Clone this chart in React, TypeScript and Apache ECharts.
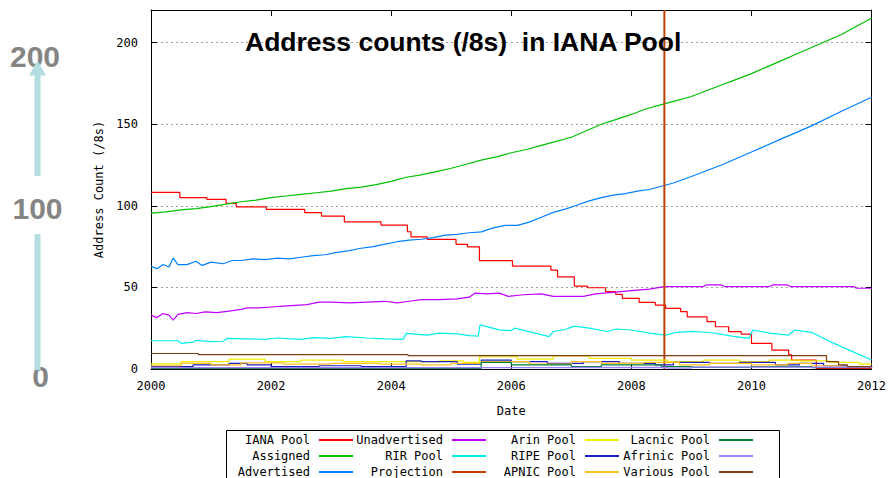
import React, { useEffect, useRef } from 'react';
import * as echarts from 'echarts';

// ---- data (year, /8 count) ----
const ianaPool: [number, number][] = [
  [2000, 108.2], [2000.48, 105], [2000.93, 104], [2001.25, 101.5], [2001.42, 99.4], [2001.92, 97.8],
  [2002.56, 95.8], [2002.84, 93.7], [2003.22, 90.2], [2003.83, 88.2], [2004.27, 84.1], [2004.33, 81],
  [2004.6, 79.4], [2005.08, 76.4], [2005.27, 74.9], [2005.47, 66.4], [2006.02, 63.1], [2006.66, 60.6],
  [2006.77, 56.5], [2007.05, 50.8], [2007.27, 49.8], [2007.57, 47.4], [2007.74, 45.7], [2007.85, 43.3],
  [2008.13, 40.8], [2008.4, 39.2], [2008.57, 37.2], [2008.82, 35.1], [2008.93, 32], [2009.26, 29],
  [2009.4, 25.9], [2009.62, 22.9], [2009.83, 21.4], [2010.0, 15.7], [2010.34, 11.6], [2010.62, 8.6],
  [2010.67, 5.5], [2011.08, 0.3], [2012, 0.3],
];
const assigned: [number, number][] = [
  [2000, 95.5], [2000.25, 96.3], [2000.5, 97.5], [2000.75, 98.3], [2001, 99.5], [2001.25, 101],
  [2001.5, 102.5], [2001.75, 103.5], [2002, 105], [2002.25, 106], [2002.5, 107], [2002.75, 108],
  [2003, 109], [2003.25, 110.5], [2003.5, 111.5], [2003.75, 113], [2004, 115], [2004.25, 117.5],
  [2004.5, 119], [2004.75, 121], [2005, 123], [2005.25, 125.5], [2005.5, 128], [2005.75, 130],
  [2006, 132.5], [2006.25, 134.5], [2006.5, 137], [2006.75, 139.5], [2007, 142], [2007.25, 146],
  [2007.5, 150], [2007.75, 153], [2008, 156], [2008.25, 159.5], [2008.5, 162], [2008.75, 164.5],
  [2009, 167], [2009.25, 170.5], [2009.5, 174], [2009.75, 177.5], [2010, 181], [2010.25, 185],
  [2010.5, 189], [2010.75, 193], [2011, 197], [2011.25, 201], [2011.5, 205], [2011.75, 210], [2012, 215],
];
const advertised: [number, number][] = [
  [2000, 63], [2000.1, 61.5], [2000.2, 64], [2000.3, 62.5], [2000.37, 68], [2000.45, 64], [2000.6, 64],
  [2000.75, 66], [2000.85, 63.5], [2001, 65.5], [2001.2, 64.5], [2001.35, 66.5], [2001.5, 66.5],
  [2001.7, 67.5], [2001.9, 67], [2002.1, 68], [2002.3, 67.5], [2002.5, 68.5], [2002.7, 69.5], [2002.9, 70],
  [2003.1, 71.5], [2003.3, 72.5], [2003.5, 74], [2003.7, 75], [2003.9, 76.5], [2004.1, 78], [2004.3, 79],
  [2004.5, 79.5], [2004.7, 80.5], [2004.9, 82], [2005.1, 82.5], [2005.3, 83.5], [2005.5, 84], [2005.7, 86.5],
  [2005.9, 88], [2006.1, 88], [2006.3, 90], [2006.5, 93], [2006.7, 96], [2006.9, 98], [2007.1, 100.5],
  [2007.3, 103], [2007.5, 105], [2007.7, 106.5], [2007.9, 107.5], [2008.1, 109], [2008.3, 110],
  [2008.5, 112], [2008.7, 114], [2009, 118], [2009.5, 125], [2010, 133], [2010.5, 141], [2011, 149],
  [2011.5, 158], [2012, 166.5],
];
const unadvertised: [number, number][] = [
  [2000, 33], [2000.1, 31.5], [2000.2, 34], [2000.3, 33], [2000.37, 30], [2000.45, 33.5], [2000.6, 34.5],
  [2000.75, 34], [2000.9, 35], [2001.1, 34.5], [2001.3, 35.5], [2001.5, 36.5], [2001.6, 37.5], [2001.8, 37.5],
  [2002, 38], [2002.2, 38.5], [2002.4, 39], [2002.6, 39.5], [2002.8, 41], [2003, 41], [2003.3, 40.5],
  [2003.6, 41], [2003.9, 41.5], [2004.1, 40.5], [2004.3, 41.5], [2004.5, 42.5], [2004.8, 42.5], [2005.1, 43],
  [2005.3, 44], [2005.4, 46.5], [2005.6, 46], [2005.8, 46.5], [2005.95, 44.5], [2006.2, 45.5], [2006.5, 46],
  [2006.7, 44.5], [2006.9, 44.5], [2007.2, 44.5], [2007.4, 46], [2007.7, 47], [2008, 48], [2008.3, 49],
  [2008.55, 50.5], [2009.2, 50.5], [2009.25, 51.5], [2009.5, 51.5], [2009.55, 50.5], [2010.3, 50.5],
  [2010.35, 51.5], [2010.6, 51.5], [2010.65, 50.5], [2011.7, 50.5], [2011.75, 49.5], [2012, 49.5],
];
const rirPool: [number, number][] = [
  [2000, 17.3], [2000.45, 17.3], [2000.5, 15.7], [2000.7, 16.5], [2000.75, 17.5], [2001, 16.8], [2001.2, 17],
  [2001.27, 18.8], [2001.6, 18.5], [2001.9, 18.2], [2002.1, 19], [2002.5, 18.2], [2002.7, 19.2], [2003, 18.8],
  [2003.25, 19.8], [2003.6, 19], [2003.9, 18.5], [2004.2, 18.2], [2004.25, 21.8], [2004.6, 20.8], [2004.8, 22],
  [2005.1, 21.5], [2005.3, 20.5], [2005.45, 20.2], [2005.48, 27], [2005.8, 24], [2006, 23.5], [2006.05, 25],
  [2006.4, 22], [2006.63, 19.8], [2006.7, 23], [2006.9, 24.2], [2007.05, 26.3], [2007.3, 25], [2007.6, 23],
  [2007.75, 24.5], [2008, 23.9], [2008.3, 22], [2008.57, 20.8], [2008.75, 22.5], [2009, 23], [2009.35, 22.2],
  [2009.7, 20], [2009.96, 18.8], [2010.02, 23.9], [2010.3, 22], [2010.62, 20.8], [2010.72, 23.9],
  [2011, 22.5], [2011.3, 17], [2011.6, 12], [2012, 5.5],
];
const projection: [number, number][] = [[2008.55, 0], [2008.55, 113], [2008.55, 220]];
const arinPool: [number, number][] = [
  [2000, 3.2], [2000.5, 4.5], [2001.3, 6], [2001.9, 4.5], [2002.5, 5.5], [2003.2, 4.5], [2004.3, 4.3],
  [2004.8, 5], [2005.2, 4], [2005.47, 7.5], [2006.1, 6], [2006.7, 8], [2007.3, 6.5], [2008, 5.5],
  [2008.6, 4.5], [2009.2, 5.5], [2009.8, 4.5], [2010.3, 5.5], [2010.8, 5], [2011.3, 4], [2011.8, 3], [2012, 3],
];
const ripePool: [number, number][] = [
  [2000, 1.5], [2000.7, 2.5], [2001.3, 3.5], [2001.6, 2.5], [2002, 1.5], [2002.8, 2], [2003.5, 1.5],
  [2004.25, 5], [2004.5, 4.5], [2005.1, 3], [2005.5, 5.5], [2006, 4.5], [2006.6, 3.5], [2007.2, 4.5],
  [2007.8, 3.5], [2008.4, 2.5], [2008.7, 4], [2009.3, 3.5], [2009.8, 4], [2010.4, 2.5], [2010.8, 3.5],
  [2011.2, 2], [2011.6, 1.5], [2012, 1],
];
const apnicPool: [number, number][] = [
  [2000, 2], [2000.5, 3.5], [2001, 2.5], [2001.5, 3.8], [2002.2, 3], [2003, 3.5], [2003.8, 3], [2004.5, 2.5],
  [2005, 3.5], [2005.5, 4.5], [2006.3, 3], [2007, 4.5], [2007.5, 3.5], [2008.2, 4], [2008.8, 2.5],
  [2009.3, 3.5], [2010, 2.5], [2010.6, 3.5], [2011, 2], [2011.5, 1], [2012, 0.5],
];
const lacnicPool: [number, number][] = [
  [2000, 0.3], [2005.2, 0.3], [2005.5, 4], [2006, 2.5], [2007, 1.5], [2007.5, 2.5], [2008.5, 1.5],
  [2009, 1], [2010, 1.5], [2011, 0.8], [2012, 0.3],
];
const afrinicPool: [number, number][] = [
  [2000, 0.8], [2004, 0.8], [2006, 1], [2008.6, 0.5], [2009, 1.2], [2011, 1], [2012, 0.5],
];
const variousPool: [number, number][] = [
  [2000, 9.5], [2000.79, 8.8], [2004.28, 8.2], [2011.2, 8.2], [2011.25, 4.5], [2011.45, 2.5],
  [2011.6, 1.5], [2012, 1],
];

const seriesNames = [
  'IANA Pool', 'Assigned', 'Advertised', 'Unadvertised', 'RIR Pool', 'Projection',
  'Arin Pool', 'RIPE Pool', 'APNIC Pool', 'Lacnic Pool', 'Afrinic Pool', 'Various Pool',
];
const seriesData = [
  ianaPool, assigned, advertised, unadvertised, rirPool, projection,
  arinPool, ripePool, apnicPool, lacnicPool, afrinicPool, variousPool,
];
const seriesColors = [
  '#ff0000', '#00c000', '#0080ff', '#c000ff', '#00eeee', '#c04000',
  '#eeee00', '#2020c0', '#ffc020', '#008040', '#a080ff', '#804014',
];
const stepped = [true, false, false, false, false, false, true, true, true, true, true, true];

const titleText = 'Address counts (/8s)  in IANA Pool';
const sideLabels = ['200', '100', '0'];

const MONO = 'DejaVu Sans Mono';
const SANS = 'Liberation Sans, Arial';

export default function App() {
  const ref = useRef<HTMLDivElement>(null);
  useEffect(() => {
    if (!ref.current) return;
    const chart = echarts.init(ref.current, undefined, { renderer: 'svg' });

    const colRight = [536, 403, 270, 136];
    const rowTop = [434, 450, 466];

    const axisCommon = {
      type: 'value' as const,
      axisLine: { show: true, onZero: false, lineStyle: { color: '#000', width: 1 } },
      axisTick: { show: true, inside: true, length: 6, lineStyle: { color: '#000' } },
    };

    const option: any = {
      animation: false,
      backgroundColor: '#fff',
      title: {
        text: titleText,
        left: 245,
        top: 28,
        padding: 0,
        textStyle: { fontFamily: SANS, fontSize: 26.5, fontWeight: 'bold', color: '#000' },
      },
      grid: { left: 151, right: 16, top: 10, bottom: 109, containLabel: false },
      xAxis: [
        {
          ...axisCommon,
          min: 2000, max: 2012, interval: 2,
          position: 'bottom',
          name: 'Date', nameLocation: 'middle', nameGap: 36,
          nameTextStyle: { fontFamily: MONO, fontSize: 12, color: '#000' },
          axisLabel: { formatter: (v: number) => String(v), fontFamily: MONO, fontSize: 12, color: '#000', margin: 11 },
          splitLine: { show: false },
        },
        {
          ...axisCommon,
          min: 2000, max: 2012, interval: 2,
          position: 'top',
          axisLabel: { show: false },
          splitLine: { show: false },
        },
      ],
      yAxis: [
        {
          ...axisCommon,
          min: 0, max: 220, interval: 50,
          position: 'left',
          name: 'Address Count (/8s)', nameLocation: 'middle', nameGap: 46, nameRotate: 90,
          nameTextStyle: { fontFamily: MONO, fontSize: 12, color: '#000' },
          axisLabel: { fontFamily: MONO, fontSize: 12, color: '#000', margin: 13, showMaxLabel: false },
          splitLine: { show: true, lineStyle: { color: '#a0a0a0', type: [2, 3], width: 1 } },
        },
        {
          ...axisCommon,
          min: 0, max: 220, interval: 50,
          position: 'right',
          axisLabel: { show: false },
          splitLine: { show: false },
        },
      ],
      legend: seriesNames.map((name, i) => ({
        data: [name],
        right: colRight[Math.floor(i / 3)],
        top: rowTop[i % 3],
        align: 'right',
        orient: 'horizontal',
        padding: 0,
        itemWidth: 34,
        itemHeight: 2,
        icon: 'rect',
        selectedMode: false,
        textStyle: { fontFamily: MONO, fontSize: 12, color: '#000', padding: [0, 4, 0, 0] },
      })),
      series: seriesNames.map((name, i) => ({
        name,
        type: 'line',
        data: seriesData[i],
        xAxisIndex: 0,
        yAxisIndex: 0,
        showSymbol: false,
        symbol: 'none',
        step: stepped[i] ? 'end' : false,
        color: seriesColors[i],
        lineStyle: { color: seriesColors[i], width: name === 'Projection' ? 2 : 1.2 },
        z: 2 + i * 0.01,
      })),
      graphic: [
        {
          type: 'rect', left: 224, top: 428, silent: true,
          shape: { width: 553, height: 60 },
          style: { fill: 'none', stroke: '#000', lineWidth: 1 },
        },
        {
          type: 'text', x: 35, y: 56, silent: true,
          style: { text: sideLabels[0], fill: '#858585', font: `bold 30px ${SANS}`, align: 'center', verticalAlign: 'middle' },
        },
        {
          type: 'text', x: 37.5, y: 208, silent: true,
          style: { text: sideLabels[1], fill: '#858585', font: `bold 30px ${SANS}`, align: 'center', verticalAlign: 'middle' },
        },
        {
          type: 'text', x: 40.5, y: 376, silent: true,
          style: { text: sideLabels[2], fill: '#858585', font: `bold 30px ${SANS}`, align: 'center', verticalAlign: 'middle' },
        },
        {
          type: 'rect', silent: true, shape: { x: 34.5, y: 234, width: 6, height: 136 },
          style: { fill: '#b3dde0' },
        },
        {
          type: 'rect', silent: true, shape: { x: 34.5, y: 74, width: 6, height: 102 },
          style: { fill: '#b3dde0' },
        },
        {
          type: 'polygon', silent: true,
          shape: { points: [[29, 75.5], [46, 75.5], [37.5, 60.5]] },
          style: { fill: '#b3dde0' },
        },
      ],
    };
    chart.setOption(option);
    return () => chart.dispose();
  }, []);

  return (
    <div
      ref={ref}
      style={{ position: 'fixed', left: 0, top: 0, width: 889, height: 478, background: '#fff' }}
    />
  );
}
